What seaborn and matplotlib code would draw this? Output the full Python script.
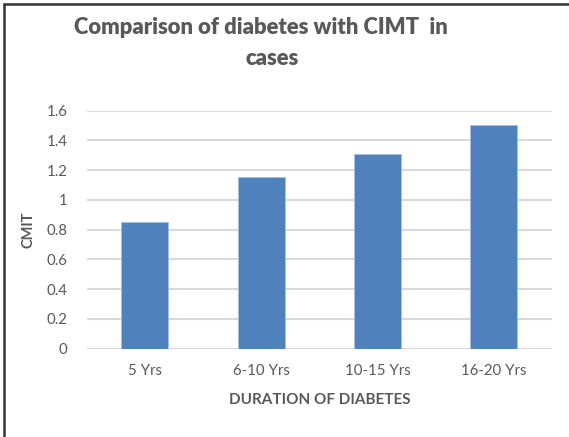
import matplotlib
matplotlib.use("Agg")
import matplotlib.pyplot as plt
from matplotlib.lines import Line2D
import seaborn as sns
import pandas as pd

durations = ["5 Yrs", "6-10 Yrs", "10-15 Yrs", "16-20 Yrs"]
cimt = [0.85, 1.15, 1.31, 1.50]
y_ticks = [0, 0.2, 0.4, 0.6, 0.8, 1, 1.2, 1.4, 1.6]
y_tick_labels = ["0", "0.2", "0.4", "0.6", "0.8", "1", "1.2", "1.4", "1.6"]

sns.set_theme(style="white")
plt.rcParams["font.family"] = ["Lato", "DejaVu Sans"]

text_color = "#595959"
bar_color = "#4F81BD"
grid_color = "#D9D9D9"

df = pd.DataFrame({"duration": durations, "cimt": cimt})

fig = plt.figure(figsize=(5.69, 4.37), dpi=100)
ax = fig.add_axes([0.1524, 0.2025, 0.8176, 0.5446])

sns.barplot(data=df, x="duration", y="cimt", color=bar_color, width=0.405,
            saturation=1, edgecolor="#A9C1E0", linewidth=0.6, ax=ax, zorder=3)

ax.set_ylim(0, 1.6)
ax.set_yticks(y_ticks)
ax.set_yticklabels(y_tick_labels)
ax.yaxis.grid(True, color=grid_color, linewidth=1.5, zorder=0)
ax.set_axisbelow(True)
for s in ax.spines.values():
    s.set_visible(False)
ax.tick_params(axis="both", length=0, labelsize=10.8, labelcolor=text_color)
ax.tick_params(axis="y", pad=14)
ax.tick_params(axis="x", pad=11)

ax.set_xlabel("DURATION OF DIABETES", fontsize=11, fontweight="bold",
              color=text_color, labelpad=11)
ax.set_ylabel("CMIT", fontsize=10.5, fontweight="bold", color=text_color,
              labelpad=8)

fig.text(0.459, 0.938, "Comparison of diabetes with CIMT  in", ha="center",
         va="center", fontsize=15.8, fontweight="heavy", color=text_color)
fig.text(0.478, 0.867, "cases", ha="center", va="center", fontsize=15.8,
         fontweight="heavy", color=text_color)

# frame edges along the left and top of the figure
fig.add_artist(Line2D([0.0079, 0.0079], [0, 0.991], transform=fig.transFigure,
                      color="#333333", linewidth=1.8))
fig.add_artist(Line2D([0.0079, 1.0], [0.991, 0.991], transform=fig.transFigure,
                      color="#333333", linewidth=1.8))

fig.savefig("out.png", dpi=100, facecolor="white")
